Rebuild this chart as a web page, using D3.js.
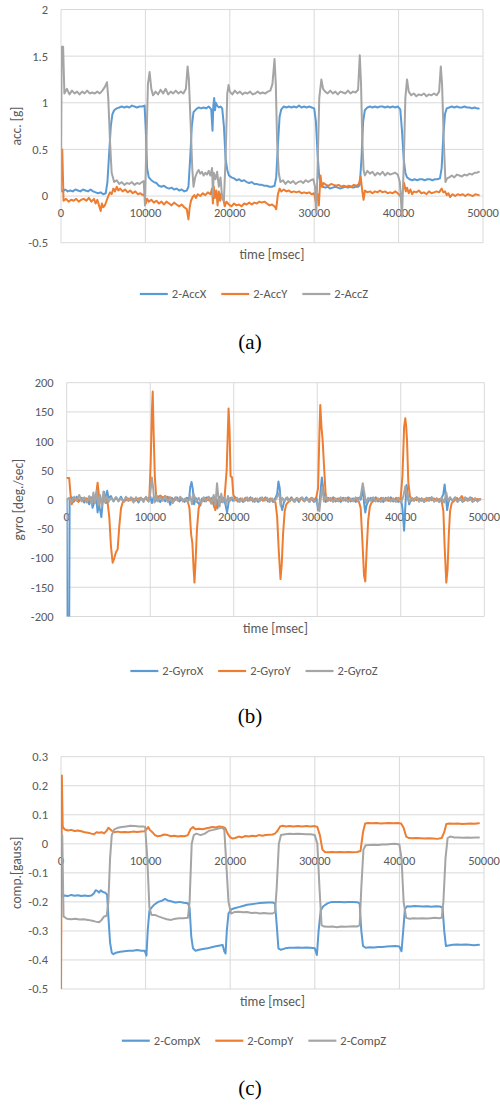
<!DOCTYPE html>
<html><head><meta charset="utf-8">
<script src="https://cdn.jsdelivr.net/npm/d3@7"></script>
<style>
body{margin:0;background:#fff}
svg text{font-family:Carlito,Lato,"Open Sans",sans-serif}
</style></head><body>
<svg id="chart" width="500" height="1106"></svg>
<script>
// ---- accelerometer [g], pairs of [time ms, value] ----
const accX = [[0,0.07],[200,0.05],[500,0.07],[800,0.05],[1100,0.06],[1400,0.05],[1700,0.07],[2000,0.06],[2300,0.05],[2600,0.07],[2900,0.06],[3200,0.05],[3500,0.07],[3800,0.05],[4100,0.04],[4400,0.03],[4700,0.04],[5000,0.02],[5300,0.03],[5500,0.15],[5700,0.45],[5900,0.75],[6100,0.88],[6300,0.92],[6600,0.94],[6900,0.95],[7200,0.96],[7500,0.95],[7800,0.96],[8100,0.95],[8400,0.97],[8700,0.96],[9000,0.95],[9300,0.96],[9600,0.96],[9900,0.97],[10050,0.7],[10200,0.3],[10400,0.2],[10700,0.17],[11000,0.15],[11300,0.14],[11600,0.11],[11900,0.1],[12200,0.11],[12500,0.09],[12800,0.08],[13100,0.09],[13400,0.07],[13700,0.08],[14000,0.06],[14300,0.07],[14600,0.05],[14900,0.06],[15100,0.1],[15300,0.4],[15500,0.75],[15700,0.9],[16000,0.93],[16300,0.95],[16600,0.94],[16900,0.95],[17200,0.94],[17500,0.96],[17800,0.93],[17950,0.7],[18050,0.97],[18150,1.05],[18250,0.92],[18350,1.0],[18500,0.97],[18700,0.95],[18900,0.96],[19100,0.94],[19300,0.75],[19500,0.4],[19700,0.28],[19900,0.22],[20200,0.2],[20500,0.19],[20800,0.17],[21100,0.18],[21400,0.16],[21700,0.17],[22000,0.15],[22300,0.14],[22600,0.15],[22900,0.13],[23200,0.13],[23500,0.12],[23800,0.12],[24100,0.11],[24400,0.11],[24700,0.1],[25000,0.1],[25300,0.11],[25500,0.2],[25700,0.55],[25900,0.85],[26100,0.93],[26400,0.96],[26700,0.95],[27000,0.96],[27300,0.95],[27600,0.96],[27900,0.95],[28200,0.97],[28500,0.95],[28800,0.96],[29100,0.95],[29400,0.96],[29700,0.95],[30000,0.94],[30200,0.8],[30400,0.45],[30600,0.2],[30800,0.13],[31000,0.1],[31300,0.09],[31600,0.1],[31900,0.08],[32200,0.09],[32500,0.1],[32800,0.09],[33100,0.08],[33400,0.09],[33700,0.1],[34000,0.09],[34300,0.1],[34600,0.09],[34900,0.1],[35200,0.1],[35400,0.12],[35600,0.4],[35800,0.8],[36000,0.92],[36300,0.95],[36600,0.96],[36900,0.95],[37200,0.96],[37500,0.95],[37800,0.96],[38100,0.96],[38400,0.95],[38700,0.96],[39000,0.95],[39300,0.96],[39600,0.95],[39900,0.96],[40200,0.93],[40400,0.7],[40600,0.4],[40800,0.25],[41000,0.2],[41300,0.18],[41600,0.17],[41900,0.18],[42200,0.17],[42500,0.18],[42800,0.18],[43100,0.17],[43400,0.18],[43700,0.18],[44000,0.17],[44300,0.18],[44600,0.18],[44900,0.19],[45100,0.3],[45300,0.65],[45500,0.88],[45700,0.94],[46000,0.95],[46300,0.96],[46600,0.95],[46900,0.96],[47200,0.95],[47500,0.95],[47800,0.96],[48100,0.95],[48400,0.95],[48700,0.94],[49000,0.95],[49300,0.94],[49500,0.94]];
const accY = [[0,0.5],[150,0.5],[300,-0.05],[600,-0.03],[900,-0.06],[1200,-0.04],[1500,-0.05],[1800,-0.03],[2100,-0.06],[2400,-0.04],[2700,-0.03],[3000,-0.05],[3300,-0.02],[3600,-0.06],[3900,-0.03],[4100,-0.08],[4300,-0.04],[4500,-0.1],[4700,-0.16],[4850,-0.08],[5000,-0.12],[5200,-0.1],[5400,-0.05],[5600,0.0],[5800,0.04],[6000,0.02],[6200,0.08],[6400,0.05],[6600,0.1],[6800,0.06],[7000,0.08],[7300,0.05],[7600,0.07],[7900,0.04],[8200,0.06],[8500,0.03],[8800,0.05],[9100,0.02],[9400,0.03],[9700,0.01],[9900,0.02],[10050,-0.08],[10200,-0.03],[10400,-0.06],[10700,-0.04],[11000,-0.07],[11300,-0.05],[11600,-0.08],[11900,-0.06],[12200,-0.09],[12500,-0.06],[12800,-0.08],[13100,-0.1],[13400,-0.07],[13700,-0.09],[14000,-0.11],[14300,-0.09],[14600,-0.12],[14900,-0.14],[15100,-0.25],[15250,-0.12],[15400,-0.05],[15600,-0.01],[15800,0.01],[16000,-0.02],[16200,0.02],[16500,0.0],[16800,0.03],[17100,0.01],[17400,0.04],[17700,0.02],[17900,0.08],[18000,-0.08],[18100,0.1],[18250,-0.02],[18400,0.06],[18550,-0.1],[18700,0.05],[18850,-0.05],[19000,0.03],[19200,-0.02],[19400,-0.11],[19600,-0.06],[19900,-0.09],[20200,-0.11],[20500,-0.08],[20800,-0.1],[21100,-0.09],[21400,-0.11],[21700,-0.08],[22000,-0.09],[22300,-0.07],[22600,-0.09],[22900,-0.07],[23200,-0.08],[23500,-0.06],[23800,-0.07],[24100,-0.06],[24400,-0.08],[24700,-0.1],[25000,-0.09],[25300,-0.11],[25500,-0.14],[25700,0.02],[25900,0.08],[26100,0.05],[26400,0.07],[26700,0.05],[27000,0.06],[27300,0.04],[27600,0.05],[27900,0.04],[28200,0.05],[28500,0.03],[28800,0.04],[29100,0.03],[29400,0.04],[29700,0.02],[30000,0.03],[30200,-0.07],[30400,0.02],[30550,-0.1],[30750,0.22],[30900,0.1],[31100,0.14],[31400,0.12],[31700,0.11],[32000,0.13],[32300,0.12],[32600,0.11],[32900,0.12],[33200,0.1],[33500,0.11],[33800,0.1],[34100,0.11],[34400,0.1],[34700,0.12],[35000,0.11],[35300,0.13],[35500,0.21],[35700,0.05],[35850,-0.04],[36000,0.06],[36300,0.04],[36600,0.05],[36900,0.03],[37200,0.05],[37500,0.04],[37800,0.06],[38100,0.04],[38400,0.05],[38700,0.03],[39000,0.04],[39300,0.03],[39600,0.05],[39900,0.03],[40200,0.0],[40450,0.03],[40650,0.14],[40850,0.05],[41000,0.09],[41200,0.03],[41400,0.07],[41600,0.02],[41800,0.05],[42100,0.04],[42400,0.06],[42700,0.03],[43000,0.04],[43300,0.02],[43600,0.05],[43900,0.03],[44200,0.04],[44500,0.05],[44800,0.04],[45100,0.08],[45300,0.04],[45500,0.05],[45700,0.01],[45900,0.03],[46100,-0.01],[46400,0.02],[46700,0.0],[47000,0.02],[47300,0.01],[47600,0.02],[47900,0.0],[48200,0.02],[48500,0.01],[48800,0.0],[49100,0.02],[49500,0.01]];
const accZ = [[0,0.05],[80,1.6],[250,1.6],[400,1.1],[700,1.15],[1000,1.09],[1300,1.13],[1600,1.1],[1900,1.12],[2200,1.09],[2500,1.12],[2800,1.1],[3100,1.13],[3400,1.1],[3700,1.11],[4000,1.1],[4300,1.12],[4600,1.1],[4900,1.13],[5200,1.17],[5450,1.22],[5600,1.05],[5800,0.6],[6000,0.25],[6300,0.15],[6600,0.17],[6900,0.13],[7200,0.15],[7500,0.12],[7800,0.14],[8100,0.13],[8400,0.15],[8700,0.12],[9000,0.14],[9300,0.13],[9600,0.15],[9800,0.16],[9950,-0.1],[10100,0.5],[10300,1.2],[10500,1.33],[10700,1.15],[10900,1.08],[11200,1.12],[11500,1.09],[11800,1.14],[12100,1.1],[12400,1.15],[12700,1.09],[13000,1.12],[13300,1.1],[13600,1.13],[13900,1.1],[14200,1.12],[14500,1.1],[14800,1.15],[15000,1.39],[15150,1.25],[15350,0.8],[15550,0.3],[15700,0.1],[15900,0.2],[16100,0.25],[16300,0.28],[16500,0.24],[16700,0.26],[16900,0.22],[17100,0.25],[17300,0.23],[17500,0.27],[17700,0.22],[17900,0.3],[18000,0.0],[18100,0.25],[18300,0.18],[18500,0.26],[18700,0.1],[18900,0.2],[19100,-0.03],[19300,-0.05],[19500,0.4],[19700,1.1],[19850,1.19],[20000,1.12],[20300,1.09],[20600,1.13],[20900,1.1],[21200,1.12],[21500,1.09],[21800,1.11],[22100,1.1],[22400,1.12],[22700,1.09],[23000,1.1],[23300,1.12],[23600,1.1],[23900,1.11],[24200,1.1],[24500,1.12],[24800,1.13],[25050,1.2],[25300,1.47],[25450,1.2],[25600,0.6],[25800,0.25],[26000,0.15],[26300,0.17],[26600,0.13],[26900,0.16],[27200,0.14],[27500,0.16],[27800,0.13],[28100,0.15],[28400,0.16],[28700,0.14],[29000,0.17],[29300,0.15],[29600,0.17],[29900,0.18],[30100,0.1],[30250,-0.18],[30400,0.3],[30600,1.05],[30850,1.25],[31050,1.15],[31300,1.12],[31600,1.1],[31900,1.13],[32200,1.1],[32500,1.12],[32800,1.09],[33100,1.12],[33400,1.11],[33700,1.1],[34000,1.13],[34300,1.1],[34600,1.12],[34900,1.11],[35200,1.14],[35400,1.51],[35550,1.2],[35700,0.6],[35850,0.28],[36000,0.22],[36300,0.27],[36600,0.24],[36900,0.26],[37200,0.22],[37500,0.25],[37800,0.23],[38100,0.26],[38400,0.22],[38700,0.25],[39000,0.23],[39300,0.24],[39600,0.25],[39900,0.23],[40150,0.15],[40400,-0.22],[40600,0.3],[40800,1.05],[41000,1.25],[41200,1.12],[41500,1.08],[41800,1.1],[42100,1.07],[42400,1.09],[42700,1.08],[43000,1.1],[43300,1.07],[43600,1.09],[43900,1.08],[44200,1.1],[44500,1.08],[44800,1.12],[45000,1.39],[45150,1.2],[45350,0.6],[45550,0.15],[45750,0.19],[46000,0.2],[46300,0.22],[46600,0.2],[46900,0.23],[47200,0.22],[47500,0.21],[47800,0.23],[48100,0.22],[48400,0.24],[48700,0.23],[49000,0.25],[49300,0.25],[49500,0.26]];

// ---- gyroscope [deg./sec] ----
const gyroX = [[0,0],[50,-205],[300,-205],[350,0],[600,4],[900,-3],[1200,5],[1500,-2],[1800,3],[2100,-5],[2400,2],[2700,-8],[2900,4],[3100,-14],[3300,-4],[3500,9],[3700,-22],[3850,-8],[4000,-18],[4150,-30],[4300,-6],[4500,13],[4700,-6],[4850,15],[5000,3],[5300,6],[5600,-3],[5900,4],[6200,-2],[6500,5],[6800,-4],[7100,3],[7400,-2],[7700,4],[8000,-3],[8300,2],[8600,-5],[8900,3],[9200,-2],[9500,4],[9800,-3],[10000,6],[10200,-6],[10400,4],[10600,-3],[10900,3],[11200,-4],[11500,2],[11800,-3],[12100,5],[12400,-9],[12600,3],[12900,-2],[13200,4],[13500,-3],[13800,2],[14100,-4],[14400,3],[14650,0],[14800,22],[14950,30],[15100,18],[15250,-8],[15450,3],[15700,-5],[16000,-10],[16200,2],[16500,-3],[16800,4],[17100,-2],[17400,3],[17650,-12],[17850,2],[18050,-15],[18250,5],[18500,-4],[18800,3],[19000,-8],[19200,-22],[19400,-4],[19600,3],[19900,-2],[20200,4],[20500,-3],[20800,2],[21100,-4],[21400,3],[21700,-2],[22000,4],[22300,-3],[22600,2],[22900,-4],[23200,3],[23500,-2],[23800,4],[24100,-3],[24400,2],[24700,-4],[25000,3],[25200,10],[25350,31],[25500,20],[25650,-8],[25800,-18],[26000,-5],[26300,3],[26600,-2],[26900,4],[27200,-3],[27500,2],[27800,-4],[28100,3],[28400,-2],[28700,4],[29000,-3],[29300,2],[29600,-4],[29900,3],[30100,-18],[30250,-8],[30400,15],[30550,38],[30700,20],[30850,5],[31000,-4],[31300,3],[31600,-2],[31900,4],[32200,-3],[32500,2],[32800,-4],[33100,3],[33400,-2],[33700,4],[34000,-3],[34300,2],[34600,-4],[34900,3],[35200,0],[35450,20],[35600,-5],[35750,-22],[35900,-10],[36100,-3],[36400,3],[36700,-2],[37000,4],[37300,-3],[37600,2],[37900,-4],[38200,3],[38500,-2],[38800,4],[39100,-3],[39400,2],[39700,-4],[40000,3],[40200,-15],[40400,-53],[40550,-10],[40700,25],[40850,5],[41000,-8],[41300,3],[41600,-2],[41900,4],[42200,-3],[42500,2],[42800,-4],[43100,3],[43400,-2],[43700,4],[44000,-3],[44300,2],[44600,-4],[44900,3],[45100,10],[45250,26],[45400,5],[45550,-18],[45700,-5],[45900,3],[46200,-2],[46500,4],[46800,-3],[47100,2],[47400,-4],[47700,3],[48000,-2],[48300,4],[48600,-3],[48900,2],[49200,-3],[49500,1]];
const gyroY = [[0,37],[300,37],[450,10],[600,-8],[800,-3],[1100,2],[1400,-4],[1700,1],[2000,-3],[2300,2],[2600,-2],[2900,3],[3200,-3],[3500,5],[3700,29],[3850,8],[4000,-5],[4300,-2],[4600,3],[4900,-5],[5100,-30],[5300,-80],[5500,-108],[5700,-100],[5900,-90],[6100,-85],[6300,-45],[6500,-15],[6700,-5],[7000,-2],[7300,2],[7600,-1],[7900,2],[8200,-2],[8500,1],[8800,3],[9100,-1],[9400,2],[9700,-1],[9900,5],[10050,60],[10200,150],[10300,185],[10400,120],[10550,40],[10700,8],[10900,4],[11200,7],[11500,3],[11800,6],[12100,2],[12400,4],[12700,-2],[13000,3],[13300,-1],[13600,2],[13900,-2],[14200,1],[14500,-3],[14700,-15],[14900,-60],[15050,-75],[15200,-120],[15300,-142],[15450,-100],[15600,-50],[15800,-15],[16000,-5],[16300,-2],[16600,3],[16900,-1],[17200,2],[17500,-4],[17800,-18],[18000,-3],[18300,2],[18600,-2],[18900,3],[19150,50],[19380,156],[19500,120],[19620,40],[19800,38],[19950,8],[20200,2],[20500,-3],[20800,1],[21100,-2],[21400,2],[21700,-1],[22000,3],[22300,-2],[22600,1],[22900,-2],[23200,2],[23500,-1],[23800,2],[24100,-2],[24400,1],[24700,-2],[25000,-5],[25200,-30],[25400,-90],[25600,-136],[25750,-110],[25900,-60],[26100,-20],[26300,-8],[26600,-3],[26900,1],[27200,-2],[27500,2],[27800,-1],[28100,3],[28400,-2],[28700,1],[29000,-1],[29300,3],[29600,-2],[29900,5],[30100,20],[30250,110],[30360,162],[30500,125],[30650,100],[30800,60],[31000,10],[31200,-3],[31400,2],[31700,-1],[32000,3],[32300,-2],[32600,1],[32900,-2],[33200,2],[33500,-1],[33800,3],[34100,-2],[34400,1],[34700,-2],[35000,-4],[35200,-15],[35400,-70],[35600,-130],[35750,-140],[35900,-90],[36100,-35],[36300,-12],[36500,-5],[36800,-2],[37100,2],[37400,-1],[37700,3],[38000,-2],[38300,1],[38600,-2],[38900,2],[39200,-1],[39500,3],[39800,-2],[40000,5],[40200,40],[40400,125],[40540,139],[40650,125],[40750,100],[40900,30],[41100,5],[41300,-2],[41600,2],[41900,-1],[42200,2],[42500,-2],[42800,1],[43100,-2],[43400,3],[43700,-1],[44000,2],[44300,-2],[44600,1],[44900,-3],[45100,-20],[45250,-80],[45450,-142],[45600,-120],[45750,-60],[45900,-20],[46100,-6],[46400,-2],[46700,3],[47000,-1],[47300,6],[47600,-2],[47900,2],[48200,-1],[48500,3],[48800,-2],[49100,1],[49500,0]];
const gyroZ = [[0,0],[300,3],[600,-4],[900,5],[1200,-2],[1500,8],[1800,-3],[2100,4],[2400,-5],[2700,6],[3000,-8],[3200,12],[3400,-6],[3600,15],[3800,-10],[4000,8],[4200,-12],[4400,14],[4600,-5],[4800,6],[5000,-4],[5300,3],[5600,-2],[5900,4],[6200,-3],[6500,2],[6800,-4],[7100,5],[7400,-2],[7700,3],[8000,-5],[8300,4],[8600,-2],[8900,3],[9200,-4],[9500,5],[9800,-3],[10000,10],[10200,38],[10350,20],[10500,-5],[10700,8],[10900,-3],[11200,4],[11500,-2],[11800,6],[12100,-4],[12400,3],[12700,-6],[13000,4],[13300,-2],[13600,5],[13900,-3],[14200,2],[14500,-5],[14800,6],[15000,-8],[15200,10],[15500,-4],[15800,3],[16100,-6],[16400,4],[16700,-3],[17000,5],[17300,-7],[17600,8],[17800,-10],[18000,28],[18150,5],[18300,-12],[18500,10],[18700,-5],[18900,4],[19100,-8],[19300,6],[19500,-3],[19800,4],[20100,-2],[20400,3],[20700,-4],[21000,2],[21300,-3],[21600,4],[21900,-2],[22200,3],[22500,-4],[22800,2],[23100,-3],[23400,4],[23700,-2],[24000,3],[24300,-4],[24600,2],[24900,-3],[25200,5],[25450,12],[25600,-10],[25800,3],[26100,-2],[26400,4],[26700,-3],[27000,2],[27300,-4],[27600,3],[27900,-2],[28200,4],[28500,-3],[28800,2],[29100,-4],[29400,3],[29700,-2],[30000,-5],[30250,-20],[30450,5],[30600,22],[30800,-3],[31000,6],[31300,-2],[31600,3],[31900,-4],[32200,2],[32500,-3],[32800,4],[33100,-2],[33400,3],[33700,-4],[34000,2],[34300,-3],[34600,4],[34900,-2],[35200,6],[35450,28],[35650,10],[35850,-6],[36100,3],[36400,-2],[36700,4],[37000,-3],[37300,2],[37600,-4],[37900,3],[38200,-2],[38500,4],[38800,-3],[39100,2],[39400,-4],[39700,3],[40000,-5],[40300,5],[40550,23],[40750,8],[41000,-4],[41300,3],[41600,-2],[41900,4],[42200,-3],[42500,2],[42800,-4],[43100,3],[43400,-2],[43700,4],[44000,-3],[44300,2],[44600,-4],[44900,3],[45200,-5],[45450,12],[45650,-3],[45900,4],[46200,-2],[46500,3],[46800,-4],[47100,2],[47400,-3],[47700,4],[48000,-2],[48300,3],[48600,-4],[48900,2],[49200,-3],[49500,1]];

// ---- compass [gauss] ----
const compX = [[0,-0.17],[150,-0.18],[400,-0.178],[800,-0.18],[1200,-0.176],[1600,-0.179],[2000,-0.177],[2400,-0.18],[2800,-0.178],[3200,-0.18],[3600,-0.178],[3900,-0.17],[4100,-0.16],[4300,-0.162],[4500,-0.168],[4700,-0.16],[4900,-0.165],[5200,-0.168],[5450,-0.175],[5600,-0.25],[5800,-0.34],[6000,-0.375],[6200,-0.38],[6500,-0.375],[7000,-0.372],[7500,-0.37],[8000,-0.368],[8500,-0.368],[9000,-0.366],[9500,-0.368],[9900,-0.368],[10100,-0.385],[10250,-0.3],[10450,-0.23],[10700,-0.22],[11000,-0.21],[11500,-0.2],[12000,-0.195],[12300,-0.19],[12600,-0.195],[13000,-0.198],[13500,-0.202],[14000,-0.2],[14500,-0.203],[15000,-0.205],[15200,-0.22],[15400,-0.32],[15600,-0.36],[15900,-0.368],[16300,-0.365],[16800,-0.362],[17300,-0.36],[17800,-0.356],[18300,-0.353],[18800,-0.35],[19100,-0.348],[19300,-0.37],[19450,-0.378],[19600,-0.3],[19800,-0.24],[20100,-0.226],[20500,-0.222],[21000,-0.218],[21500,-0.214],[22000,-0.21],[22500,-0.208],[23000,-0.206],[23500,-0.204],[24000,-0.203],[24500,-0.202],[25000,-0.202],[25300,-0.205],[25500,-0.28],[25700,-0.36],[26000,-0.365],[26500,-0.36],[27000,-0.358],[27500,-0.358],[28000,-0.357],[28500,-0.358],[29000,-0.357],[29500,-0.358],[30000,-0.36],[30250,-0.383],[30450,-0.3],[30700,-0.23],[31000,-0.215],[31500,-0.205],[32000,-0.2],[32500,-0.2],[33000,-0.2],[33500,-0.201],[34000,-0.2],[34500,-0.2],[35000,-0.201],[35300,-0.205],[35500,-0.3],[35700,-0.352],[36000,-0.358],[36500,-0.356],[37000,-0.357],[37500,-0.355],[38000,-0.355],[38500,-0.354],[39000,-0.353],[39500,-0.352],[40000,-0.354],[40250,-0.37],[40450,-0.3],[40650,-0.225],[40900,-0.215],[41300,-0.216],[41800,-0.214],[42300,-0.215],[42800,-0.216],[43300,-0.215],[43800,-0.217],[44300,-0.215],[44800,-0.216],[45100,-0.22],[45300,-0.3],[45500,-0.352],[45800,-0.35],[46300,-0.348],[46800,-0.347],[47300,-0.348],[47800,-0.347],[48300,-0.348],[48800,-0.349],[49400,-0.348]];
const compY = [[0,-0.55],[100,0.235],[200,0.06],[400,0.05],[800,0.046],[1200,0.048],[1600,0.044],[2000,0.046],[2400,0.043],[2800,0.04],[3200,0.038],[3600,0.035],[3900,0.033],[4200,0.04],[4500,0.038],[4800,0.04],[5100,0.036],[5400,0.045],[5600,0.055],[5800,0.05],[6000,0.045],[6300,0.04],[6700,0.042],[7100,0.04],[7500,0.041],[8000,0.04],[8500,0.042],[9000,0.041],[9500,0.042],[9900,0.043],[10100,0.05],[10300,0.058],[10500,0.048],[10800,0.04],[11100,0.03],[11400,0.026],[11800,0.028],[12200,0.032],[12600,0.03],[13000,0.026],[13400,0.028],[13800,0.025],[14200,0.027],[14600,0.026],[15000,0.03],[15300,0.05],[15600,0.058],[15900,0.05],[16300,0.052],[16700,0.05],[17100,0.053],[17500,0.055],[17900,0.058],[18300,0.056],[18700,0.06],[19100,0.058],[19400,0.055],[19700,0.035],[20000,0.022],[20300,0.018],[20600,0.02],[21000,0.025],[21400,0.022],[21800,0.027],[22200,0.025],[22600,0.028],[23000,0.026],[23400,0.03],[23800,0.028],[24200,0.03],[24600,0.031],[25000,0.032],[25300,0.035],[25600,0.045],[25900,0.06],[26200,0.062],[26600,0.06],[27000,0.061],[27500,0.06],[28000,0.061],[28500,0.06],[29000,0.061],[29500,0.06],[30000,0.061],[30300,0.058],[30600,0.03],[30900,-0.02],[31200,-0.028],[31600,-0.029],[32000,-0.028],[32500,-0.029],[33000,-0.028],[33500,-0.029],[34000,-0.028],[34500,-0.029],[35000,-0.028],[35400,-0.025],[35700,0.04],[35950,0.07],[36300,0.072],[36800,0.071],[37300,0.072],[37800,0.07],[38300,0.071],[38800,0.072],[39300,0.071],[39800,0.072],[40200,0.07],[40500,0.055],[40800,0.025],[41100,0.02],[41500,0.019],[42000,0.02],[42500,0.019],[43000,0.018],[43500,0.019],[44000,0.018],[44500,0.017],[45000,0.02],[45300,0.04],[45550,0.068],[45900,0.07],[46400,0.069],[46900,0.07],[47400,0.068],[47900,0.069],[48400,0.07],[48900,0.069],[49400,0.071]];
const compZ = [[0,0.03],[150,0.03],[300,-0.25],[700,-0.258],[1200,-0.26],[1700,-0.258],[2200,-0.261],[2700,-0.26],[3200,-0.262],[3700,-0.265],[4100,-0.268],[4500,-0.27],[4800,-0.262],[5100,-0.25],[5400,-0.248],[5600,-0.2],[5800,-0.05],[6000,0.03],[6300,0.05],[6700,0.055],[7200,0.058],[7700,0.06],[8200,0.062],[8700,0.061],[9200,0.06],[9700,0.06],[9950,0.058],[10200,-0.05],[10450,-0.22],[10700,-0.245],[11100,-0.245],[11500,-0.25],[12000,-0.255],[12500,-0.26],[13000,-0.262],[13500,-0.258],[14000,-0.256],[14500,-0.256],[15000,-0.255],[15200,-0.2],[15450,0.0],[15700,0.03],[16000,0.035],[16500,0.03],[17000,0.035],[17500,0.045],[18000,0.048],[18500,0.052],[19000,0.055],[19300,0.05],[19500,-0.05],[19800,-0.2],[20100,-0.24],[20500,-0.235],[21000,-0.234],[21500,-0.236],[22000,-0.235],[22500,-0.238],[23000,-0.237],[23500,-0.24],[24000,-0.238],[24500,-0.24],[25000,-0.24],[25300,-0.235],[25500,-0.15],[25750,0.0],[26000,0.03],[26500,0.033],[27000,0.035],[27500,0.034],[28000,0.035],[28500,0.034],[29000,0.033],[29500,0.033],[30000,0.03],[30300,0.0],[30550,-0.15],[30800,-0.28],[31100,-0.285],[31600,-0.286],[32100,-0.285],[32600,-0.287],[33100,-0.285],[33600,-0.286],[34100,-0.285],[34600,-0.284],[35000,-0.285],[35300,-0.28],[35500,-0.15],[35750,-0.02],[36000,-0.005],[36500,-0.004],[37000,-0.003],[37500,-0.004],[38000,-0.002],[38500,-0.002],[39000,-0.001],[39500,0.0],[40000,-0.002],[40250,-0.05],[40500,-0.2],[40800,-0.255],[41200,-0.258],[41700,-0.256],[42200,-0.257],[42700,-0.256],[43200,-0.257],[43700,-0.256],[44200,-0.255],[44700,-0.256],[45000,-0.255],[45200,-0.2],[45450,-0.05],[45700,0.02],[46000,0.025],[46500,0.022],[47000,0.022],[47500,0.021],[48000,0.022],[48500,0.021],[49000,0.022],[49400,0.022]];

// ---- axes, names, captions ----
const timeTicks = [0, 10000, 20000, 30000, 40000, 50000];
const accTicks = [-0.5, 0, 0.5, 1, 1.5, 2];
const gyroTicks = [-200, -150, -100, -50, 0, 50, 100, 150, 200];
const compTicks = [-0.5, -0.4, -0.3, -0.2, -0.1, 0, 0.1, 0.2, 0.3];
const accNames = ["2-AccX", "2-AccY", "2-AccZ"];
const gyroNames = ["2-GyroX", "2-GyroY", "2-GyroZ"];
const compNames = ["2-CompX", "2-CompY", "2-CompZ"];
const seriesColors = ["#5B9BD5", "#ED7D31", "#A5A5A5"];
const captions = ["(a)", "(b)", "(c)"];
const yTitles = ["acc. [g]", "gyro [deg./sec]", "comp.[gauss]"];
const xTitle = "time [msec]";

const panels = [
  { box: {l: 61, r: 483, t: 9.5, b: 242.7}, ticks: accTicks, series: [accX, accY, accZ], names: accNames,
    yTitle: yTitles[0], yTitleX: 16, legendY: 294, caption: captions[0], captionY: 342 },
  { box: {l: 66.7, r: 484.3, t: 382.7, b: 616.5}, ticks: gyroTicks, series: [gyroX, gyroY, gyroZ], names: gyroNames,
    yTitle: yTitles[1], yTitleX: 18, legendY: 671, caption: captions[1], captionY: 716 },
  { box: {l: 61, r: 484, t: 756.7, b: 989}, ticks: compTicks, series: [compX, compY, compZ], names: compNames,
    yTitle: yTitles[2], yTitleX: 16, legendY: 1040.7, caption: captions[2], captionY: 1088 }
];

const svg = d3.select("#chart");
const gridColor = "#D9D9D9", textColor = "#595959";

panels.forEach((p, i) => {
  const b = p.box;
  const x = d3.scaleLinear().domain([0, 50000]).range([b.l, b.r]);
  const y = d3.scaleLinear().domain(d3.extent(p.ticks)).range([b.b, b.t]);
  const g = svg.append("g");

  // gridlines
  g.selectAll(".hg").data(p.ticks).join("line")
    .attr("x1", b.l).attr("x2", b.r).attr("y1", d => y(d)).attr("y2", d => y(d))
    .attr("stroke", gridColor).attr("stroke-width", 1);
  g.selectAll(".vg").data(timeTicks).join("line")
    .attr("x1", d => x(d)).attr("x2", d => x(d)).attr("y1", b.t).attr("y2", b.b)
    .attr("stroke", gridColor).attr("stroke-width", 1);

  // y axis labels
  g.selectAll(".yl").data(p.ticks).join("text")
    .attr("x", b.l - 13).attr("y", d => y(d)).attr("dy", "0.35em")
    .attr("text-anchor", "end").attr("font-size", 12.5).attr("fill", textColor)
    .text(d => String(d));

  // x axis labels sit under the zero line
  g.selectAll(".xl").data(timeTicks).join("text")
    .attr("x", d => x(d)).attr("y", y(0) + 17).attr("dy", "0.35em")
    .attr("text-anchor", "middle").attr("font-size", 12.5).attr("fill", textColor)
    .text(d => String(d));

  // series lines, clipped to the plot area
  const clipId = "clip" + i;
  svg.append("clipPath").attr("id", clipId).append("rect")
    .attr("x", b.l).attr("y", b.t).attr("width", b.r - b.l).attr("height", b.b - b.t);
  const line = d3.line().x(d => x(d[0])).y(d => y(d[1]));
  const lg = g.append("g").attr("clip-path", `url(#${clipId})`);
  p.series.forEach((s, k) => {
    lg.append("path").datum(s).attr("d", line)
      .attr("fill", "none").attr("stroke", seriesColors[k]).attr("stroke-width", 2)
      .attr("stroke-linejoin", "round").attr("stroke-linecap", "round");
  });

  // axis titles
  g.append("text").attr("x", (b.l + b.r) / 2).attr("y", b.b + 12).attr("dy", "0.35em")
    .attr("text-anchor", "middle").attr("font-size", 13.5).attr("fill", textColor).text(xTitle);
  g.append("text").attr("transform", `translate(${p.yTitleX},${(b.t + b.b) / 2}) rotate(-90)`)
    .attr("dy", "0.35em").attr("text-anchor", "middle").attr("font-size", 13.5).attr("fill", textColor)
    .text(p.yTitle);

  // legend, centred under the chart
  const leg = g.append("g");
  let cx = 0;
  p.names.forEach((n, k) => {
    const item = leg.append("g").attr("transform", `translate(${cx},0)`);
    item.append("line").attr("x1", 0).attr("x2", 28).attr("y1", 0).attr("y2", 0)
      .attr("stroke", seriesColors[k]).attr("stroke-width", 2.2);
    const t = item.append("text").attr("x", 32).attr("y", 0).attr("dy", "0.35em")
      .attr("font-size", 12.5).attr("fill", textColor).text(n);
    cx += 32 + t.node().getComputedTextLength() + 15;
  });
  const legW = cx - 15;
  leg.attr("transform", `translate(${254 - legW / 2},${p.legendY})`);

  // caption
  svg.append("text").attr("x", 250).attr("y", p.captionY).attr("dy", "0.35em")
    .attr("text-anchor", "middle").attr("font-size", 21).attr("fill", "#000")
    .style("font-family", "'Liberation Serif','Times New Roman',serif").text(p.caption);
});
</script>
</body></html>
